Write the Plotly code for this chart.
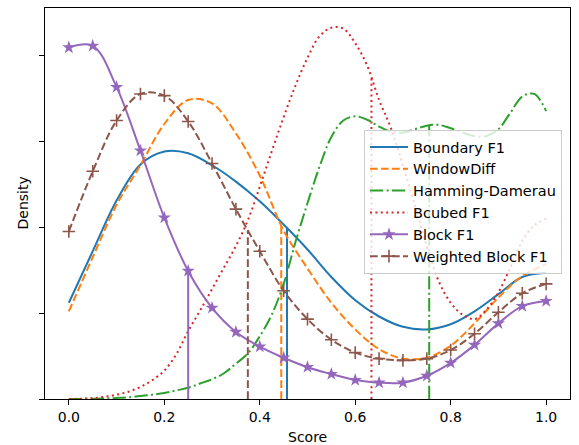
import numpy as np
import plotly.graph_objects as go

# Evaluation grids for the density curves
score_coarse = [round(0.05 * i, 2) for i in range(21)]
score_fine = [round(0.025 * i, 3) for i in range(41)]

# Density estimates (coarse grid)
boundary_f1 = [1.12, 1.72, 2.31, 2.73, 2.88, 2.86, 2.72, 2.53, 2.30, 2.03, 1.74,
               1.42, 1.15, 0.96, 0.84, 0.81, 0.87, 1.02, 1.22, 1.42, 1.47]
window_diff = [1.02, 1.65, 2.26, 2.72, 3.20, 3.48, 3.44, 3.09, 2.60, 1.96, 1.52,
               1.12, 0.81, 0.58, 0.47, 0.48, 0.62, 0.88, 1.18, 1.43, 1.57]
block_f1 = [4.09, 4.11, 3.63, 2.89, 2.11, 1.49, 1.06, 0.78, 0.61, 0.48, 0.37,
            0.29, 0.22, 0.19, 0.19, 0.27, 0.42, 0.63, 0.88, 1.08, 1.14]
weighted_block_f1 = [1.95, 2.65, 3.24, 3.55, 3.53, 3.23, 2.74, 2.21, 1.72, 1.26, 0.93,
                     0.69, 0.54, 0.47, 0.45, 0.47, 0.57, 0.76, 1.01, 1.23, 1.34]

# Density estimates (fine grid)
hamming_damerau = [0.0, 0.001, 0.003, 0.006, 0.012, 0.02, 0.035, 0.05, 0.07, 0.10,
                   0.13, 0.18, 0.23, 0.30, 0.41, 0.53, 0.73, 0.98, 1.34, 1.83,
                   2.28, 2.70, 3.05, 3.24, 3.29, 3.25, 3.17, 3.11, 3.10, 3.14,
                   3.18, 3.19, 3.15, 3.10, 3.06, 3.06, 3.14, 3.33, 3.52, 3.55, 3.35]
bcubed_f1 = [0.0, 0.003, 0.01, 0.025, 0.05, 0.085, 0.14, 0.22, 0.33, 0.52,
             0.79, 1.03, 1.28, 1.53, 1.78, 2.08, 2.47, 2.88, 3.28, 3.65,
             3.97, 4.22, 4.32, 4.31, 4.14, 3.88, 3.48, 3.15, 2.72, 2.25,
             1.78, 1.37, 1.12, 0.98, 0.93, 1.04, 1.24, 1.53, 1.84, 2.02, 2.10]

# Mean score of each metric
metric_names = ["Boundary F1", "WindowDiff", "Hamming-Damerau", "Bcubed F1",
                "Block F1", "Weighted Block F1"]
mean_scores = [0.457, 0.445, 0.755, 0.634, 0.25, 0.375]

x_ticks = [0.0, 0.2, 0.4, 0.6, 0.8, 1.0]
y_ticks = [0, 1, 2, 3, 4]

styles = [
    (score_coarse, boundary_f1, "#1f77b4", "solid", None),
    (score_coarse, window_diff, "#ff7f0e", "7.7px,3.3px", None),
    (score_fine, hamming_damerau, "#2ca02c", "13.3px,3.3px,2px,3.3px", None),
    (score_fine, bcubed_f1, "#d62728", "2px,3.4px", None),
    (score_coarse, block_f1, "#9467bd", "solid", "star"),
    (score_coarse, weighted_block_f1, "#8c564b", "7.7px,3.3px", "cross-thin"),
]

fig = go.Figure()
for name, mean, (xs, ys, color, dash, symbol) in zip(metric_names, mean_scores, styles):
    trace = dict(
        x=xs, y=ys, name=name, legendgroup=name,
        line=dict(color=color, width=2, dash=dash, shape="spline", smoothing=1),
    )
    if symbol is None:
        trace["mode"] = "lines"
    else:
        trace["mode"] = "lines+markers"
        if symbol == "star":
            trace["marker"] = dict(symbol="star", size=10, color=color,
                                   line=dict(width=0))
        else:
            trace["marker"] = dict(symbol="cross-thin", size=9, color=color,
                                   line=dict(width=1.6, color=color))
    fig.add_trace(go.Scatter(**trace))

    # vertical line at the mean, up to the density curve
    h = float(np.interp(mean, xs, ys))
    fig.add_trace(go.Scatter(
        x=[mean, mean], y=[0, h], mode="lines", legendgroup=name,
        showlegend=False, hoverinfo="skip",
        line=dict(color=color, width=2, dash=dash),
    ))

font = dict(family="DejaVu Sans", size=14, color="black")
legend_font = dict(family="DejaVu Sans", size=14.5, color="black")

fig.update_layout(
    width=579, height=445,
    margin=dict(l=45, r=9, t=8, b=46),
    paper_bgcolor="white", plot_bgcolor="white",
    font=font,
    showlegend=True,
    legend=dict(
        x=0.6076, y=0.688, xanchor="left", yanchor="top",
        bgcolor="rgba(255,255,255,0.8)", bordercolor="#cccccc", borderwidth=1,
        font=legend_font, tracegroupgap=0, itemwidth=38,
    ),
    annotations=[
        dict(text="Score", xref="paper", yref="paper", x=0.5, y=-0.097,
             xanchor="center", yanchor="middle", showarrow=False, font=font),
        dict(text="Density", xref="paper", yref="paper", x=-0.0438, y=0.5,
             xanchor="center", yanchor="middle", textangle=-90,
             showarrow=False, font=font),
    ],
)

fig.update_xaxes(
    range=[-0.05, 1.05], tickvals=x_ticks,
    ticktext=[f"{v:.1f}" for v in x_ticks],
    showgrid=False, zeroline=False,
    showline=True, linecolor="black", linewidth=1, mirror=True,
    ticks="outside", ticklen=5, tickwidth=1, tickcolor="black",
    tickfont=font,
)
fig.update_yaxes(
    range=[0, 4.55], tickvals=y_ticks, showticklabels=False,
    showgrid=False, zeroline=False,
    showline=True, linecolor="black", linewidth=1, mirror=True,
    ticks="outside", ticklen=5, tickwidth=1, tickcolor="black",
)

fig.write_html("out.html")
